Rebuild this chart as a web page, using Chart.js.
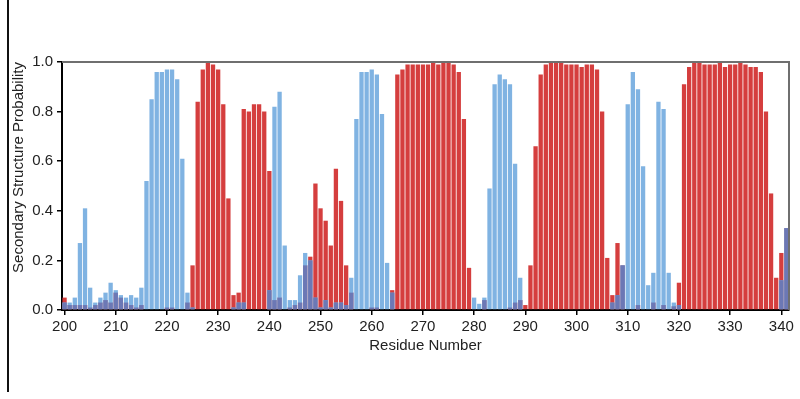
<!DOCTYPE html>
<html lang="en">
<head>
  <meta charset="UTF-8" />
  <title>Secondary Structure Probability</title>
  <script src="https://cdn.jsdelivr.net/npm/chart.js@4/dist/chart.umd.min.js"></script>
  <style>
    body { margin:0; background:#fff; }
    .wrap { position:relative; width:800px; height:399px; }
    .edge { position:absolute; left:7px; top:0; width:2px; height:392px; background:#111; }
    canvas { position:absolute; left:0; top:0; }
  </style>
</head>
<body>
<div class="wrap">
  <canvas id="ssChart" width="800" height="399"></canvas>
  <div class="edge"></div>
</div>

<script>
// residue numbers 200..341
const residues = [
  200,201,202,203,204,205,206,207,208,209,210,211,212,213,214,215,216,217,218,219,
  220,221,222,223,224,225,226,227,228,229,230,231,232,233,234,235,236,237,238,239,
  240,241,242,243,244,245,246,247,248,249,250,251,252,253,254,255,256,257,258,259,
  260,261,262,263,264,265,266,267,268,269,270,271,272,273,274,275,276,277,278,279,
  280,281,282,283,284,285,286,287,288,289,290,291,292,293,294,295,296,297,298,299,
  300,301,302,303,304,305,306,307,308,309,310,311,312,313,314,315,316,317,318,319,
  320,321,322,323,324,325,326,327,328,329,330,331,332,333,334,335,336,337,338,339,
  340,341
];

// helix probability (red)
const helix = [
  0.05,0.02,0.02,0.02,0.02,0.01,0.02,0.03,0.04,0.03, // 200
  0.07,0.05,0.03,0.02,0.01,0.02,0.00,0.00,0.00,0.00, // 210
  0.01,0.01,0.00,0.00,0.03,0.18,0.84,0.97,1.00,0.99, // 220
  0.97,0.83,0.45,0.06,0.07,0.81,0.80,0.83,0.83,0.80, // 230
  0.56,0.04,0.05,0.00,0.01,0.02,0.03,0.18,0.215,0.51, // 240
  0.41,0.36,0.26,0.57,0.44,0.18,0.07,0.00,0.00,0.00, // 250
  0.01,0.01,0.00,0.00,0.08,0.95,0.97,0.99,0.99,0.99, // 260
  0.99,0.99,1.00,0.99,1.00,1.00,0.99,0.96,0.77,0.17, // 270
  0.00,0.00,0.04,0.00,0.00,0.00,0.00,0.01,0.03,0.04, // 280
  0.02,0.18,0.66,0.95,0.99,1.00,1.00,1.00,0.99,0.99, // 290
  0.99,0.98,0.99,0.99,0.97,0.80,0.21,0.06,0.27,0.18, // 300
  0.00,0.00,0.02,0.00,0.00,0.03,0.00,0.02,0.00,0.015, // 310
  0.11,0.91,0.98,1.00,1.00,0.99,0.99,0.99,1.00,0.98, // 320
  0.99,0.99,1.00,0.99,0.98,0.98,0.96,0.80,0.47,0.13, // 330
  0.23,0.33                                          // 340
];

// strand probability (blue)
const strand = [
  0.03,0.03,0.05,0.27,0.41,0.09,0.03,0.05,0.07,0.11, // 200
  0.08,0.06,0.05,0.06,0.05,0.09,0.52,0.85,0.96,0.96, // 210
  0.97,0.97,0.93,0.61,0.07,0.01,0.00,0.00,0.00,0.00, // 220
  0.00,0.00,0.00,0.01,0.03,0.03,0.00,0.00,0.00,0.00, // 230
  0.08,0.82,0.88,0.26,0.04,0.04,0.14,0.23,0.20,0.05, // 240
  0.01,0.04,0.01,0.03,0.03,0.02,0.13,0.77,0.96,0.96, // 250
  0.97,0.95,0.79,0.19,0.07,0.00,0.00,0.00,0.00,0.00, // 260
  0.00,0.00,0.00,0.00,0.00,0.00,0.00,0.00,0.00,0.00, // 270
  0.05,0.025,0.05,0.49,0.91,0.95,0.93,0.91,0.59,0.13, // 280
  0.00,0.00,0.00,0.00,0.00,0.00,0.00,0.00,0.00,0.00, // 290
  0.00,0.00,0.00,0.00,0.00,0.00,0.00,0.03,0.06,0.18, // 300
  0.83,0.96,0.89,0.58,0.10,0.15,0.84,0.81,0.15,0.03, // 310
  0.02,0.00,0.00,0.00,0.00,0.00,0.00,0.00,0.00,0.00, // 320
  0.00,0.00,0.00,0.00,0.00,0.00,0.00,0.00,0.00,0.00, // 330
  0.12,0.33                                          // 340
];

const yTicks = [0, 0.2, 0.4, 0.6, 0.8, 1.0];

// where both states are populated the two bars overlap (purple)
const overlap = helix.map((h, i) => Math.min(h, strand[i]));

const FONT = 'Liberation Sans, Arial, sans-serif';

// gray frame on top and right of plot
const framePlugin = {
  id: 'frame',
  afterDraw(chart) {
    const {ctx, chartArea: a} = chart;
    ctx.save();
    ctx.strokeStyle = '#6f6f6f';
    ctx.lineWidth = 2;
    ctx.beginPath();
    ctx.moveTo(a.left, a.top);
    ctx.lineTo(a.right, a.top);
    ctx.lineTo(a.right, a.bottom);
    ctx.stroke();
    ctx.restore();
  }
};

const barOpts = {grouped: false, barPercentage: 0.84, categoryPercentage: 1, borderWidth: 0};

new Chart(document.getElementById('ssChart'), {
  type: 'bar',
  data: {
    labels: residues,
    datasets: [
      {label: 'Overlap', data: overlap, backgroundColor: '#6c78b5', ...barOpts},
      {label: 'Strand', data: strand, backgroundColor: '#80b3e2', ...barOpts},
      {label: 'Helix', data: helix, backgroundColor: '#d53e3e', ...barOpts}
    ]
  },
  options: {
    responsive: false,
    devicePixelRatio: 1,
    animation: false,
    layout: {padding: {top: 62, right: 11, bottom: 39, left: 0}},
    plugins: {legend: {display: false}, tooltip: {enabled: false}},
    scales: {
      x: {
        offset: true,
        grid: {drawOnChartArea: false, offset: false, tickLength: 5, color: '#000', lineWidth: 1.5},
        border: {color: '#000', width: 2},
        afterBuildTicks: s => { s.ticks = s.ticks.filter(t => residues[t.value] % 10 === 0); },
        afterFit: s => { s.height = 50; },
        ticks: {autoSkip: false, maxRotation: 0, padding: 3, color: '#222', font: {family: FONT, size: 15}},
        title: {display: true, text: 'Residue Number', color: '#222', padding: {top: 0, bottom: 5},
                font: {family: FONT, size: 15}}
      },
      y: {
        min: 0, max: 1,
        afterBuildTicks: s => { s.ticks = yTicks.map(v => ({value: v})); },
        afterFit: s => { s.width = 62; },
        grid: {drawOnChartArea: false, tickLength: 5, color: '#000', lineWidth: 1.5},
        border: {color: '#000', width: 2},
        ticks: {padding: 4, color: '#222', font: {family: FONT, size: 15},
                callback: v => v.toFixed(1)},
        title: {display: true, text: 'Secondary Structure Probability', align: 'end', color: '#222',
                padding: {top: 9.5, bottom: 0}, font: {family: FONT, size: 15}}
      }
    }
  },
  plugins: [framePlugin]
});
</script>
</body>
</html>
